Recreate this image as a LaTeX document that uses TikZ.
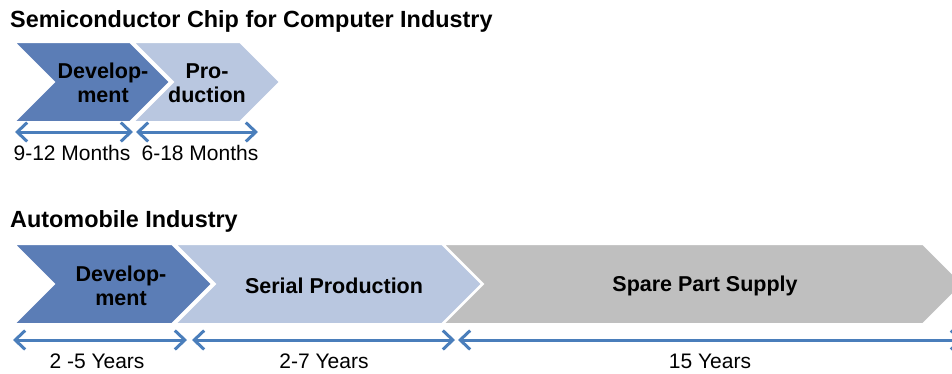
\documentclass[tikz,border=0pt]{standalone}
\usepackage{fontspec}
\setmainfont{Liberation Sans}
\usepackage{tikz}
\usetikzlibrary{arrows.meta}
\definecolor{devblue}{RGB}{91,125,182}
\definecolor{prodblue}{RGB}{185,199,224}
\definecolor{sparegray}{RGB}{191,191,191}
\definecolor{spanblue}{RGB}{74,126,187}

\begin{document}
\begin{tikzpicture}[x=1pt, y=-1pt,
    phase/.style={draw=white, line width=2pt},
    phasetext/.style={font=\fontsize{21.5}{24.5}\selectfont\bfseries, align=center, inner sep=0pt},
    span/.style={spanblue, line width=3pt, {Straight Barb[length=10pt,width=19pt]}-{Straight Barb[length=10pt,width=19pt]}},
    spantext/.style={font=\fontsize{21}{24}\selectfont, anchor=base, inner sep=0pt},
    title/.style={font=\fontsize{23.4}{26}\selectfont\bfseries, anchor=base west, inner sep=0pt}]
  \useasboundingbox (0,0) rectangle (952,373);

  % Halbleiter-Chip
  \node[title] (semi) at (10,27) {Semiconductor Chip for Computer Industry};
  \filldraw[phase, fill=devblue] (14,42) -- (130,42) -- (170,82) -- (130,122) -- (14,122) -- (54,82) -- cycle;
  \filldraw[phase, fill=prodblue] (133,42) -- (240,42) -- (280,82) -- (240,122) -- (133,122) -- (173,82) -- cycle;
  \node[phasetext] (semidev) at (103,83) {Develop-\\ment};
  \node[phasetext] (semiprod) at (207,83) {Pro-\\duction};

  % Zeitspannen oben
  \coordinate (s0) at (15,132);
  \coordinate (s1) at (133,132);
  \coordinate (s2) at (136,132);
  \coordinate (s3) at (258,132);
  \draw[span] (s0) -- (s1);
  \draw[span] (s2) -- (s3);
  \node[spantext] (semidevtime) at (72,160) {9-12 Months};
  \node[spantext] (semiprodtime) at (200,160) {6-18 Months};

  % Automobil
  \node[title] (auto) at (10,227) {Automobile Industry};
  \filldraw[phase, fill=devblue] (14,244) -- (172,244) -- (212,284) -- (172,324) -- (14,324) -- (54,284) -- cycle;
  \filldraw[phase, fill=prodblue] (175,244) -- (442,244) -- (482,284) -- (442,324) -- (175,324) -- (215,284) -- cycle;
  \filldraw[phase, fill=sparegray] (443,244) -- (923,244) -- (963,284) -- (923,324) -- (443,324) -- (483,284) -- cycle;
  \node[phasetext] (autodev) at (121,286) {Develop-\\ment};
  \node[phasetext] (autoprod) at (334,286) {Serial Production};
  \node[phasetext] (autospare) at (705,286) {Spare Part Supply};

  % Zeitspannen unten
  \coordinate (a0) at (13,340);
  \coordinate (a1) at (187,340);
  \coordinate (a2) at (192,340);
  \coordinate (a3) at (455,340);
  \coordinate (a4) at (458,340);
  \coordinate (a5) at (963,340);
  \draw[span] (a0) -- (a1);
  \draw[span] (a2) -- (a3);
  \draw[span] (a4) -- (a5);
  \node[spantext] (autodevtime) at (97,368) {2 -5 Years};
  \node[spantext] (autoprodtime) at (324,368) {2-7 Years};
  \node[spantext] (autosparetime) at (710,368) {15 Years};
\end{tikzpicture}
\end{document}
